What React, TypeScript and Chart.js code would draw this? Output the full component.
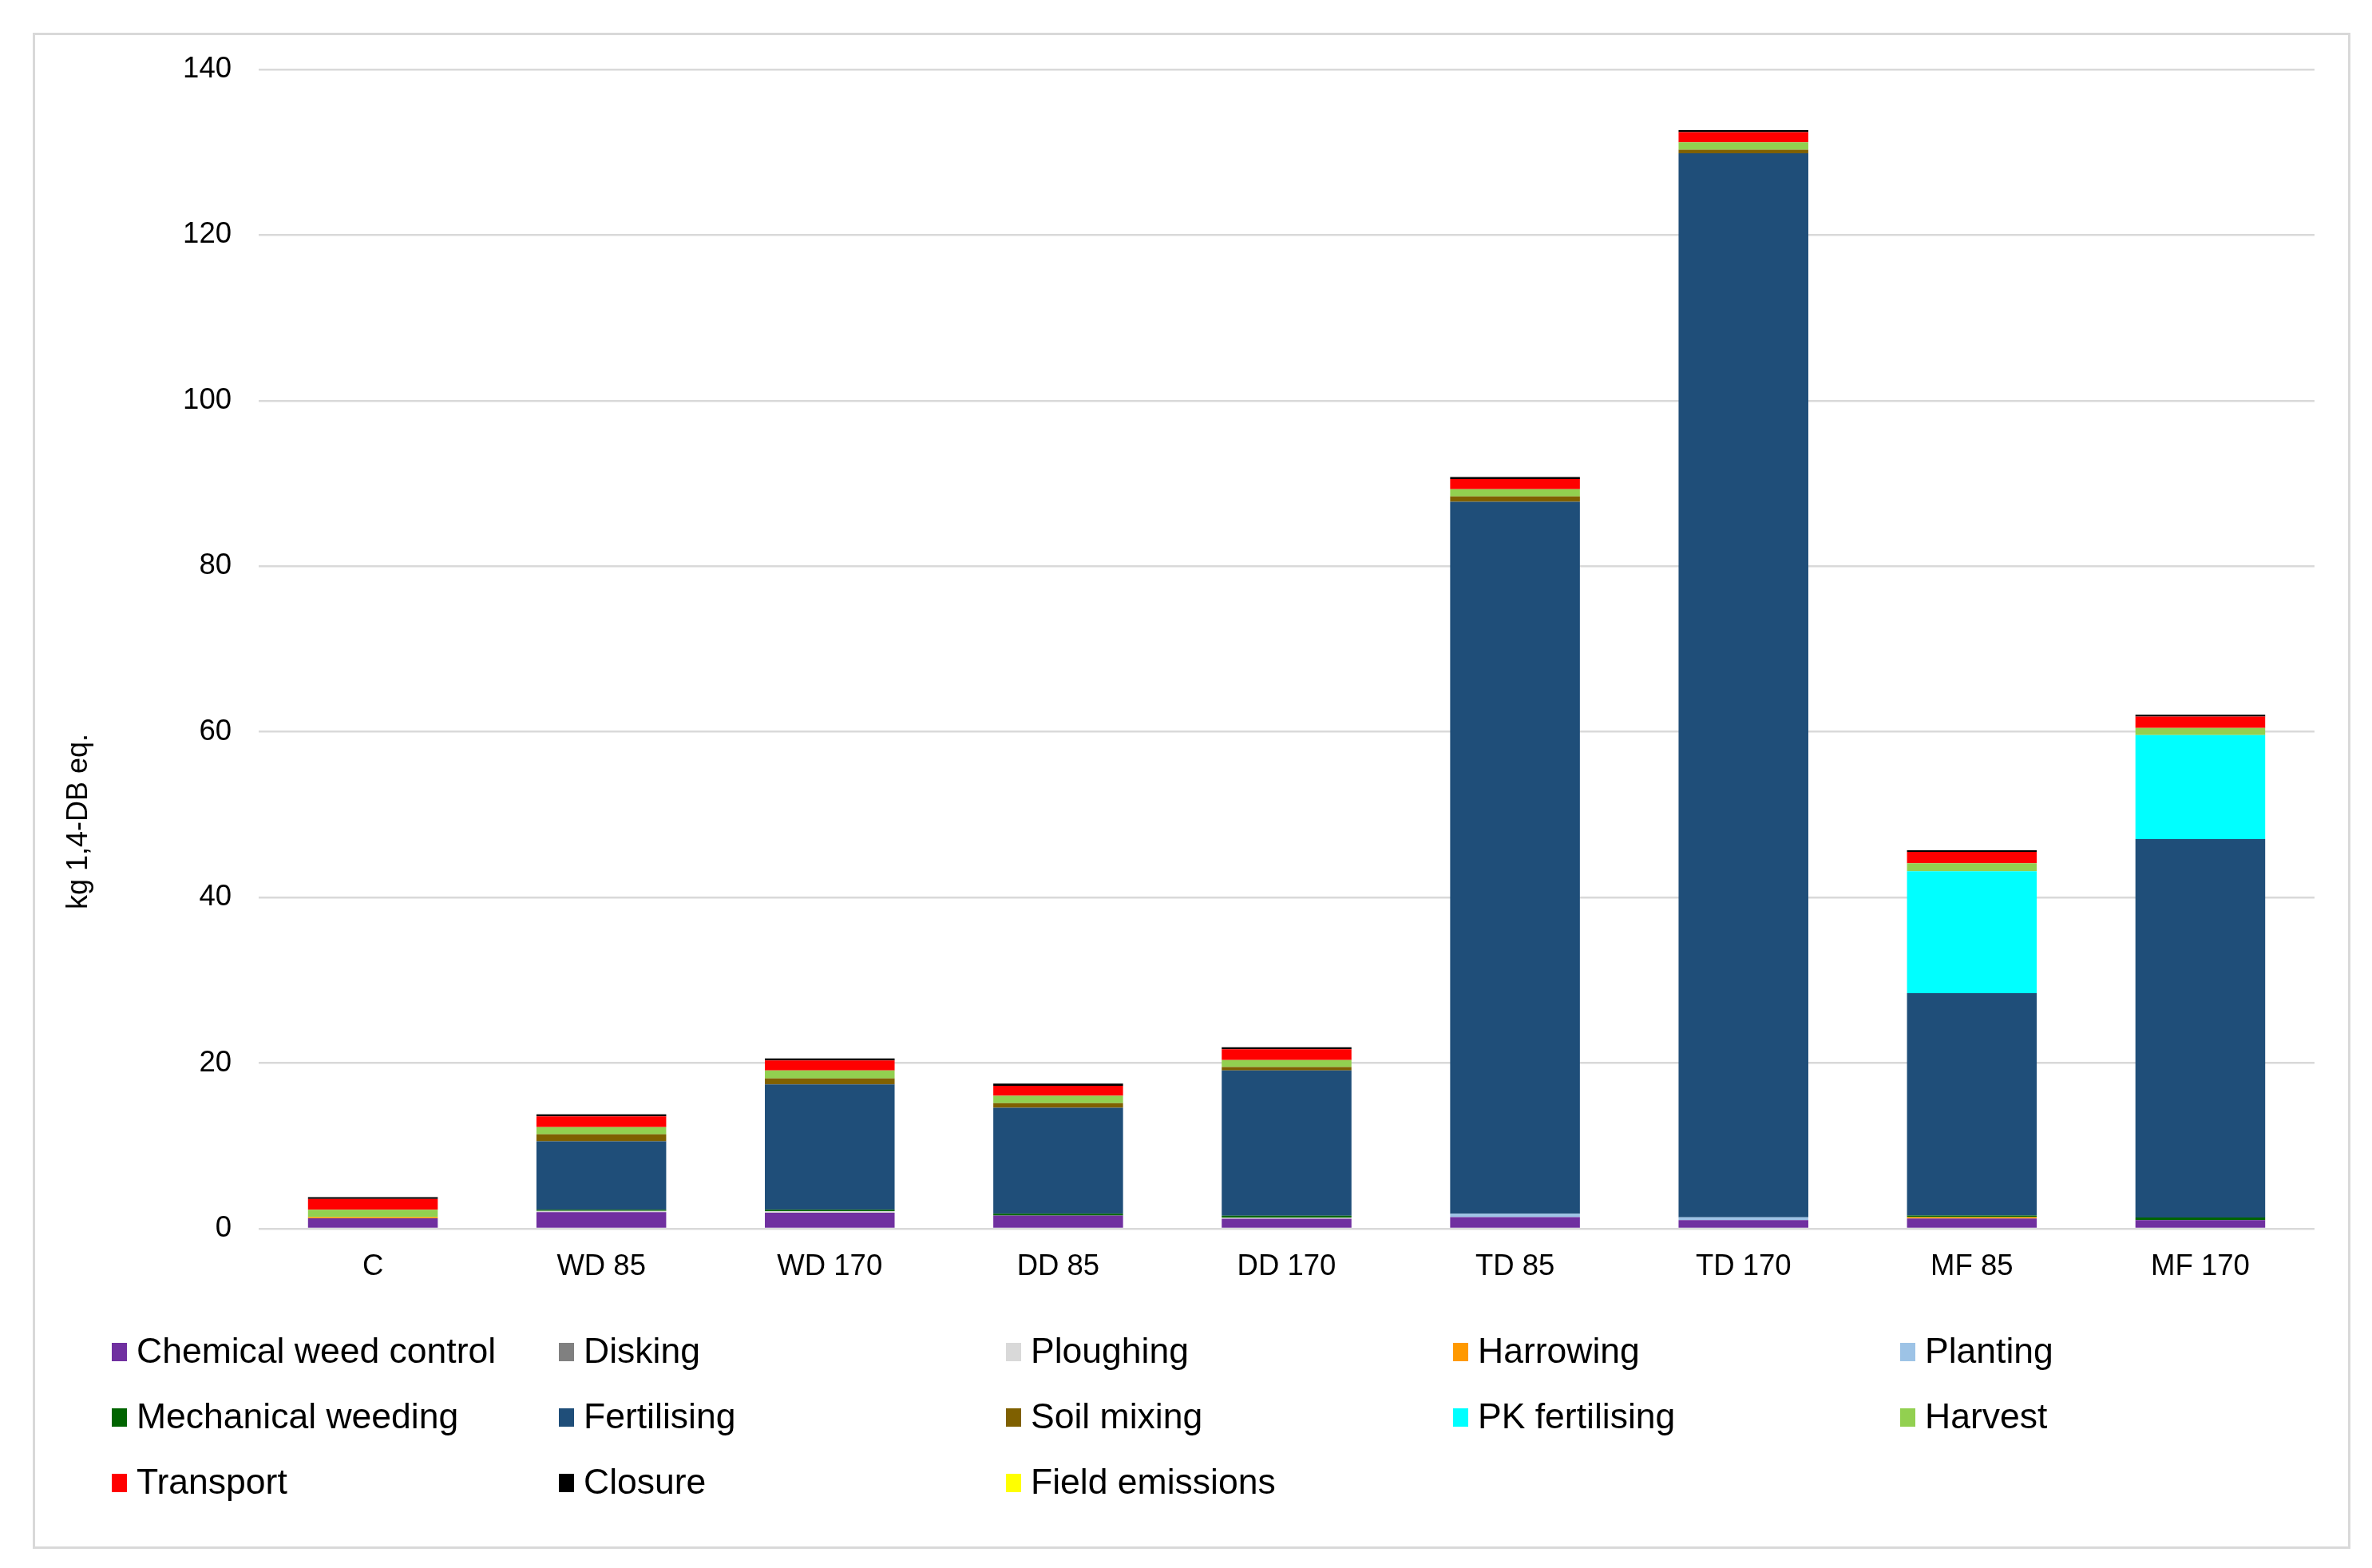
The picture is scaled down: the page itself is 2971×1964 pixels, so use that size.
import React, { useEffect, useRef } from 'react';
import { Chart, registerables } from 'chart.js';

Chart.register(...registerables);

const categories = ['C', 'WD 85', 'WD 170', 'DD 85', 'DD 170', 'TD 85', 'TD 170', 'MF 85', 'MF 170'];

const seriesLabels = [
  'Chemical weed control', 'Disking', 'Ploughing', 'Harrowing', 'Planting',
  'Mechanical weeding', 'Fertilising', 'Soil mixing', 'PK fertilising', 'Harvest',
  'Transport', 'Closure', 'Field emissions',
];

const seriesColors = [
  '#7030a0', '#808080', '#d9d9d9', '#ff9900', '#9dc3e6',
  '#006400', '#1f4e79', '#7f6000', '#00ffff', '#92d050',
  '#ff0000', '#000000', '#ffff00',
];

const chemicalWeedControl = [1.25, 2.0, 1.93, 1.6, 1.2, 1.4, 1.03, 1.22, 1.03];
const disking = [0, 0, 0, 0, 0, 0, 0, 0, 0];
const ploughing = [0, 0.15, 0.2, 0, 0.15, 0, 0, 0, 0];
const harrowing = [0.15, 0, 0, 0, 0, 0, 0, 0.19, 0];
const planting = [0, 0, 0, 0, 0, 0.4, 0.35, 0, 0];
const mechanicalWeeding = [0, 0.15, 0.16, 0.2, 0.22, 0, 0, 0.19, 0.32];
const fertilising = [0, 8.26, 15.13, 12.8, 17.55, 86.0, 128.5, 26.85, 45.7];
const soilMixing = [0, 0.85, 0.74, 0.55, 0.4, 0.64, 0.42, 0, 0];
const pkFertilising = [0, 0, 0, 0, 0, 0, 0, 14.73, 12.55];
const harvest = [0.9, 0.85, 0.95, 0.9, 0.85, 0.87, 0.9, 0.95, 0.87];
const transport = [1.3, 1.3, 1.2, 1.22, 1.3, 1.22, 1.22, 1.38, 1.38];
const closure = [0.2, 0.25, 0.25, 0.25, 0.25, 0.25, 0.26, 0.2, 0.22];
const fieldEmissions = [0, 0, 0, 0, 0, 0, 0, 0, 0];

const yTicksMin = 0;
const yTicksMax = 140;
const yTickStep = 20;
const yTitle = 'kg 1,4-DB eq.';

const FONT = "'Liberation Sans', Arial, Helvetica, sans-serif";

export default function App() {
  const ref = useRef<HTMLCanvasElement>(null);

  useEffect(() => {
    if (!ref.current) return;
    const values = [
      chemicalWeedControl, disking, ploughing, harrowing, planting,
      mechanicalWeeding, fertilising, soilMixing, pkFertilising, harvest,
      transport, closure, fieldEmissions,
    ];

    const extrasPlugin = {
      id: 'extras',
      afterDraw(chart: any) {
        const ctx = chart.ctx as CanvasRenderingContext2D;
        ctx.save();
        // grid legend
        ctx.font = `44.5px ${FONT}`;
        ctx.textAlign = 'left';
        ctx.textBaseline = 'alphabetic';
        chart.data.datasets.forEach((ds: any, i: number) => {
          const col = i % 5;
          const row = Math.floor(i / 5);
          const x = 140 + col * 560;
          const cy = 1691 + row * 82;
          ctx.fillStyle = ds.backgroundColor;
          ctx.fillRect(x, cy - 9, 19, 23);
          ctx.fillStyle = '#000000';
          ctx.fillText(ds.label, x + 31, cy + 16);
        });
        // y axis title
        ctx.translate(99, 1029);
        ctx.rotate(-Math.PI / 2);
        ctx.font = `36px ${FONT}`;
        ctx.textAlign = 'center';
        ctx.textBaseline = 'middle';
        ctx.fillStyle = '#000000';
        ctx.fillText(yTitle, 0, 0);
        ctx.restore();
      },
    };

    const chart = new Chart(ref.current, {
      type: 'bar',
      data: {
        labels: categories,
        datasets: seriesLabels.map((label, i) => ({
          label,
          data: values[i],
          backgroundColor: seriesColors[i],
          borderWidth: 0,
          barPercentage: 0.568,
          categoryPercentage: 1,
        })),
      },
      options: {
        animation: false,
        responsive: true,
        maintainAspectRatio: false,
        devicePixelRatio: 1,
        layout: { padding: { left: 78, top: 87, right: 72, bottom: 325 } },
        plugins: {
          legend: { display: false },
          tooltip: { enabled: false },
        },
        scales: {
          x: {
            stacked: true,
            grid: { display: false, drawTicks: false },
            border: { display: false },
            ticks: { font: { size: 36.5, family: FONT }, color: '#000000', padding: 26 },
            afterFit: (s: any) => { s.height = 100; },
          },
          y: {
            stacked: true,
            min: yTicksMin,
            max: yTicksMax,
            ticks: { stepSize: yTickStep, font: { size: 36.5, family: FONT }, color: '#000000', padding: 34 },
            grid: { color: '#d9d9d9', lineWidth: 2.5, drawTicks: false },
            border: { display: false },
            afterFit: (s: any) => { s.width = 246; },
          },
        },
      },
      plugins: [extrasPlugin],
    });
    return () => chart.destroy();
  }, []);

  return (
    <div style={{ position: 'fixed', left: 0, top: 0, width: 2971, height: 1964, background: '#ffffff' }}>
      <div
        style={{
          position: 'absolute', left: 41, top: 41, width: 2903, height: 1899,
          border: '3px solid #d9d9d9', boxSizing: 'border-box',
        }}
      />
      <div style={{ position: 'absolute', left: 0, top: 0, width: 2971, height: 1964 }}>
        <canvas ref={ref} />
      </div>
    </div>
  );
}
